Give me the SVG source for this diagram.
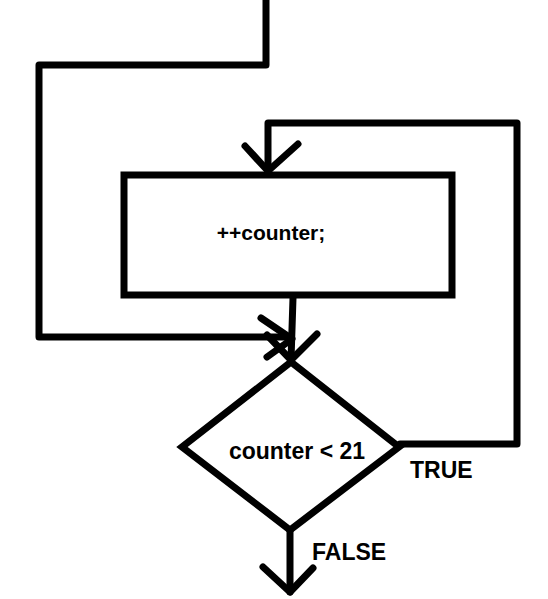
<svg xmlns="http://www.w3.org/2000/svg" width="548" height="599" viewBox="0 0 548 599">
<style>
.ln{fill:none;stroke:#000;stroke-width:7;stroke-linecap:round;stroke-linejoin:round}
.sh{fill:#fff;stroke:#000;stroke-width:7;stroke-linejoin:miter}
.tx{font-family:"Liberation Sans",Arial,sans-serif;font-weight:bold;font-size:21px;fill:#000}
.lg{font-size:23px}
</style>
<rect width="548" height="599" fill="#fff"/>
<g id="connectors">
<polyline class="ln" points="266,0 266,65 39,65 39,337 291,337"/>
<polyline class="ln" points="261,318 292,339 267,357"/>
<polyline class="ln" points="400,444 517,444 517,123 268,123 268,172"/>
<polyline class="ln" points="245,146 268,171 298,144"/>
<line class="ln" x1="293" y1="298" x2="291" y2="360"/>
<polyline class="ln" points="267,335 291,360 317,334"/>
<line class="ln" x1="290" y1="530" x2="290" y2="592"/>
<polyline class="ln" points="263,567 290,592 313,568"/>
</g>
<g id="increment">
<rect class="sh" x="124" y="175" width="328" height="120"/>
<text class="tx" x="271" y="240" text-anchor="middle">++counter;</text>
</g>
<g id="condition">
<polygon class="sh" points="291,362 399,447 290,530 182,447"/>
<text class="tx lg" x="297" y="459" text-anchor="middle">counter &lt; 21</text>
</g>
<g id="labels">
<text class="tx lg" x="410" y="478">TRUE</text>
<text class="tx lg" x="312" y="560">FALSE</text>
</g>
</svg>
